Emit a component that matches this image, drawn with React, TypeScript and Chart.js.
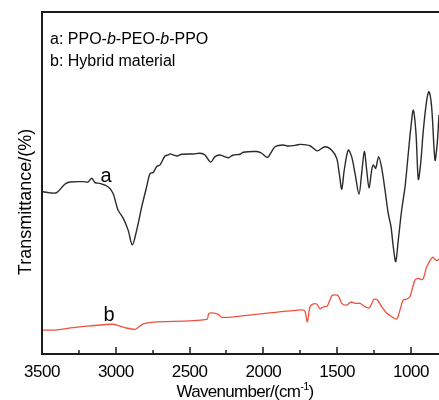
import React, { useEffect, useRef } from "react";
import { Chart, registerables } from "chart.js";

Chart.register(...registerables);

// FTIR spectrum of the triblock copolymer (curve a)
const wavenumbersA = [
  3500, 3446, 3400, 3344, 3310, 3222, 3188, 3163, 3141, 3107, 3053, 3019, 2985, 2951, 2917, 2888,
  2858, 2824, 2791, 2768, 2746, 2723, 2700, 2667, 2644, 2633, 2587, 2553, 2475, 2429, 2396, 2357,
  2328, 2294, 2238, 2204, 2158, 2136, 2045, 2011, 1973, 1944, 1921, 1865, 1831, 1774, 1752, 1684,
  1635, 1582, 1537, 1503, 1486, 1469, 1452, 1425, 1402, 1379, 1352, 1334, 1316, 1300, 1284, 1266,
  1255, 1239, 1219, 1198, 1176, 1154, 1135, 1120, 1103, 1086, 1063, 1040, 1018, 1000, 984, 966,
  950, 934, 916, 893, 878, 860, 837, 822, 810,
];
const transmittanceA = [
  47.5, 47.1, 47.2, 49.7, 50.3, 50.4, 50.3, 51.4, 50.1, 49.9, 48.9, 47.0, 42.1, 39.8, 36.3, 31.9,
  36.3, 43.1, 48.9, 52.8, 53.1, 54.8, 55.3, 57.9, 58.2, 58.5, 57.9, 58.4, 58.5, 58.7, 58.2, 56.1,
  57.7, 58.2, 57.4, 58.2, 58.4, 59.0, 59.2, 58.7, 57.5, 59.2, 60.6, 61.1, 60.8, 61.1, 61.3, 60.9,
  59.4, 60.6, 59.6, 57.2, 52.8, 48.2, 53.8, 59.6, 57.7, 52.8, 46.7, 52.8, 59.2, 53.8, 48.5, 53.8,
  55.3, 54.3, 57.7, 54.3, 48.0, 41.1, 37.2, 31.4, 27.0, 33.3, 42.1, 48.9, 58.7, 66.5, 71.3, 64.5,
  51.1, 55.8, 65.5, 74.3, 76.7, 72.3, 56.7, 61.6, 69.9,
];

// FTIR spectrum of the hybrid material (curve b)
const wavenumbersB = [
  3500, 3412, 3288, 3175, 3017, 2983, 2938, 2870, 2847, 2814, 2746, 2384, 2368, 2305, 2282, 2158,
  1740, 1718, 1702, 1684, 1666, 1639, 1616, 1594, 1567, 1537, 1515, 1492, 1469, 1435, 1408, 1379,
  1345, 1311, 1282, 1250, 1228, 1198, 1164, 1130, 1097, 1074, 1052, 1029, 1007, 973, 950, 920,
  893, 853, 837, 822, 810,
];
const transmittanceB = [
  7.0, 7.0, 7.7, 8.2, 8.7, 8.3, 7.7, 7.2, 7.8, 8.8, 9.3, 10.1, 11.9, 11.6, 10.7, 11.1,
  12.9, 12.4, 9.4, 13.8, 14.6, 14.6, 13.2, 13.8, 14.0, 17.0, 17.3, 17.0, 14.8, 14.3, 15.2, 14.8,
  14.8, 13.8, 13.5, 16.0, 15.8, 13.8, 11.9, 10.9, 10.2, 12.9, 15.8, 16.0, 16.8, 21.6, 22.1, 21.8,
  25.5, 28.3, 27.7, 27.3, 27.8,
];

const xMajorTicks = [3500, 3000, 2500, 2000, 1500, 1000];
const xMinorTicks = [3250, 2750, 2250, 1750, 1250];
const legendLines = [
  [{ t: "a: PPO-", i: false }, { t: "b", i: true }, { t: "-PEO-", i: false }, { t: "b", i: true }, { t: "-PPO", i: false }],
  [{ t: "b: Hybrid material", i: false }],
];
const curveLabels = [
  { text: "a", x: 3066, y: 52.0 },
  { text: "b", x: 3046, y: 11.4 },
];

const FONT = "'Liberation Sans', Arial, Helvetica, sans-serif";
const INK = "#1c1c1c";

const framePlugin = {
  id: "frame",
  afterDraw(chart: any) {
    const { ctx, chartArea } = chart;
    const xs = chart.scales.x;
    const ys = chart.scales.y;
    const { left, right, top, bottom } = chartArea;
    ctx.save();

    // axes frame: top, left, bottom
    ctx.strokeStyle = INK;
    ctx.lineWidth = 2;
    ctx.beginPath();
    ctx.moveTo(left, top);
    ctx.lineTo(right + 2, top);
    ctx.moveTo(left, top - 1);
    ctx.lineTo(left, bottom + 1);
    ctx.moveTo(left - 1, bottom);
    ctx.lineTo(right + 2, bottom);
    ctx.stroke();

    // inward tick marks
    ctx.lineWidth = 1.5;
    ctx.beginPath();
    xMajorTicks.forEach((v) => {
      const px = Math.round(xs.getPixelForValue(v));
      ctx.moveTo(px, bottom);
      ctx.lineTo(px, bottom - 7);
    });
    xMinorTicks.forEach((v) => {
      const px = Math.round(xs.getPixelForValue(v));
      ctx.moveTo(px, bottom);
      ctx.lineTo(px, bottom - 4);
    });
    ctx.stroke();

    // tick labels
    ctx.fillStyle = "#000";
    ctx.font = `17px ${FONT}`;
    (ctx as any).letterSpacing = "-0.5px";
    ctx.textAlign = "center";
    ctx.textBaseline = "alphabetic";
    xMajorTicks.forEach((v) => {
      ctx.fillText(String(v), xs.getPixelForValue(v), bottom + 23);
    });

    // x axis title with superscript
    (ctx as any).letterSpacing = "-0.7px";
    ctx.textAlign = "left";
    const main = "Wavenumber/(cm";
    const sup = "-1";
    const close = ")";
    ctx.font = `17px ${FONT}`;
    const wMain = ctx.measureText(main).width;
    const wClose = ctx.measureText(close).width;
    ctx.font = `11px ${FONT}`;
    const wSup = ctx.measureText(sup).width;
    const total = wMain + wSup + wClose;
    let x0 = 245 - total / 2;
    const base = bottom + 43;
    ctx.font = `17px ${FONT}`;
    ctx.fillText(main, x0, base);
    x0 += wMain;
    ctx.font = `11px ${FONT}`;
    ctx.fillText(sup, x0, base - 7);
    x0 += wSup;
    ctx.font = `17px ${FONT}`;
    ctx.fillText(close, x0, base);

    // y axis title
    (ctx as any).letterSpacing = "0px";
    ctx.save();
    ctx.translate(31, 202);
    ctx.rotate(-Math.PI / 2);
    ctx.textAlign = "center";
    ctx.font = `18px ${FONT}`;
    ctx.fillText("Transmittance/(%)", 0, 0);
    ctx.restore();

    // legend text
    ctx.textAlign = "left";
    legendLines.forEach((parts, li) => {
      let lx = left + 8;
      const ly = top + 32 + li * 22;
      parts.forEach((p) => {
        ctx.font = `${p.i ? "italic " : ""}16px ${FONT}`;
        ctx.fillText(p.t, lx, ly);
        lx += ctx.measureText(p.t).width;
      });
    });

    // curve labels
    ctx.font = `20px ${FONT}`;
    ctx.textAlign = "center";
    ctx.textBaseline = "middle";
    curveLabels.forEach((c) => {
      ctx.fillText(c.text, xs.getPixelForValue(c.x), ys.getPixelForValue(c.y));
    });

    ctx.restore();
  },
};

export default function App() {
  const canvasRef = useRef<HTMLCanvasElement | null>(null);

  useEffect(() => {
    const canvas = canvasRef.current;
    if (!canvas) return;
    const chart = new Chart(canvas, {
      type: "line",
      data: {
        datasets: [
          {
            label: "a",
            data: wavenumbersA.map((x, i) => ({ x, y: transmittanceA[i] })),
            borderColor: "#2a2a2a",
            borderWidth: 1.4,
            pointRadius: 0,
            tension: 0.3,
            fill: false,
          },
          {
            label: "b",
            data: wavenumbersB.map((x, i) => ({ x, y: transmittanceB[i] })),
            borderColor: "#f2503e",
            borderWidth: 1.3,
            pointRadius: 0,
            tension: 0.3,
            fill: false,
          },
        ],
      },
      options: {
        animation: false,
        responsive: false,
        maintainAspectRatio: false,
        layout: { padding: { left: 42, top: 12, right: 0, bottom: 46 } },
        plugins: { legend: { display: false }, tooltip: { enabled: false } },
        scales: {
          x: { type: "linear", reverse: true, min: 810, max: 3500, display: false },
          y: { type: "linear", min: 0, max: 100, display: false },
        },
      },
      plugins: [framePlugin],
    });
    return () => chart.destroy();
  }, []);

  return (
    <div style={{ position: "fixed", left: 0, top: 0, width: 439, height: 400, background: "#fff" }}>
      <canvas ref={canvasRef} width={439} height={400} />
    </div>
  );
}
